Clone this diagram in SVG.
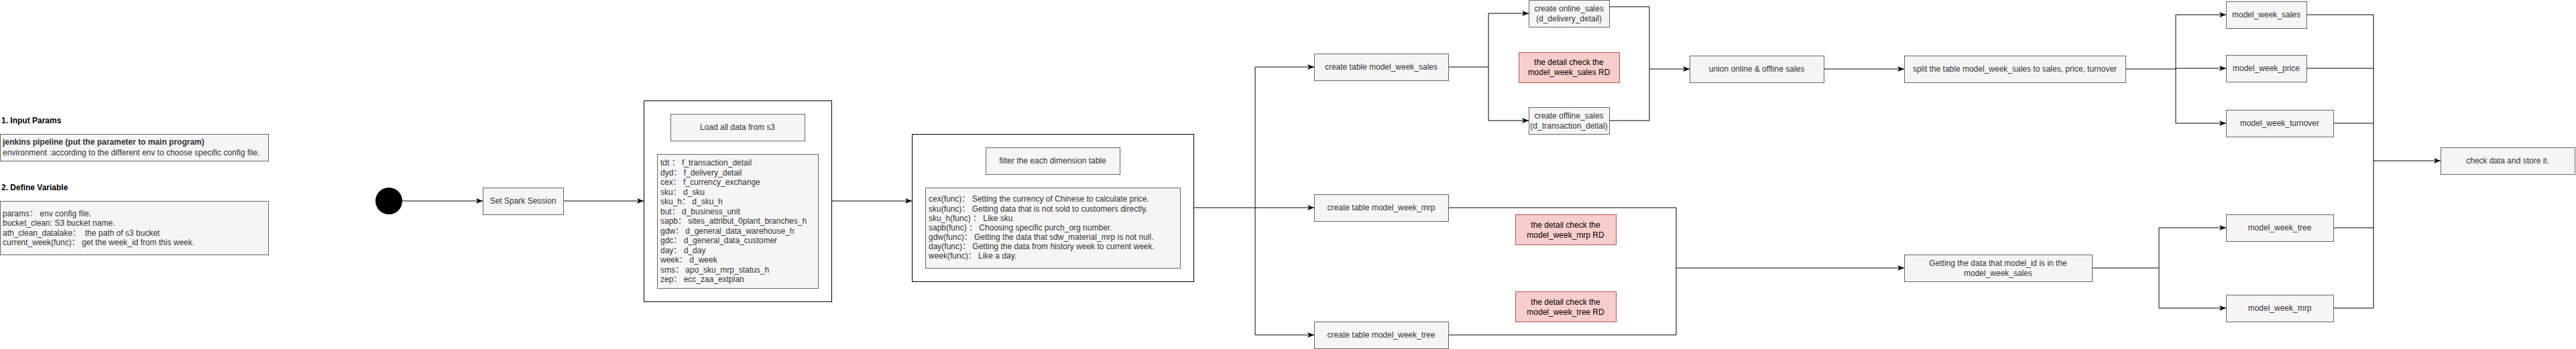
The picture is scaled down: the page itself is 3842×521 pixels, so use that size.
<svg xmlns="http://www.w3.org/2000/svg" width="3842" height="521" viewBox="0 0 3842 521">
<defs>
<marker id="arr" viewBox="0 0 10 8" refX="10" refY="4" markerWidth="10" markerHeight="8" orient="auto" markerUnits="userSpaceOnUse"><path d="M0,0 L10,4 L0,8 L2.5,4 z" fill="#000"/></marker>
</defs>
<style>
text{font-family:"Liberation Sans","Noto Sans CJK SC",Arial,sans-serif;font-size:12px;fill:#333333}
.c{text-anchor:middle}
.b{font-weight:bold}
.k{fill:#000000}
.n{fill:#f5f5f5;stroke:#666666;stroke-width:1}
.rd{fill:#f8cecc;stroke:#b85450;stroke-width:1}
.ct{fill:#ffffff;stroke:#000000;stroke-width:1}
.e{fill:none;stroke:#000000;stroke-width:1}
.a{marker-end:url(#arr)}
</style>
<rect width="3842" height="521" fill="#ffffff"/>
<g id="connectors">
<path class="e a" d="M600,300 H720"/>
<path class="e a" d="M840,300 H960"/>
<path class="e a" d="M1241,300 H1360"/>
<path class="e" d="M1781,310 H1872 M1872,100 V500"/>
<path class="e a" d="M1872,100 H1960"/>
<path class="e a" d="M1872,310 H1960"/>
<path class="e a" d="M1872,500 H1960"/>
<path class="e" d="M2161,100 H2220 M2220,20 V180"/>
<path class="e a" d="M2220,20 H2280"/>
<path class="e a" d="M2220,180 H2280"/>
<path class="e" d="M2401,10 H2460 V180 M2401,180 H2460"/>
<path class="e a" d="M2460,103 H2520"/>
<path class="e a" d="M2721,103 H2840"/>
<path class="e" d="M3171,103 H3245 M3245,22 V184"/>
<path class="e a" d="M3245,22 H3320"/>
<path class="e a" d="M3245,102 H3320"/>
<path class="e a" d="M3245,184 H3320"/>
<path class="e" d="M2161,310 H2500 V500 M2161,500 H2500"/>
<path class="e a" d="M2500,400 H2840"/>
<path class="e" d="M3120,400 H3220 M3220,340 V460"/>
<path class="e a" d="M3220,340 H3320"/>
<path class="e a" d="M3220,460 H3320"/>
<path class="e" d="M3440,22 H3540 M3440,102 H3540 M3480,184 H3540 M3480,340 H3540 M3480,460 H3540 M3540,22 V460"/>
<path class="e a" d="M3540,240 H3640"/>
</g>
<g id="input-params">
<text class="b k" x="2" y="184">1. Input Params</text>
<rect class="n" x="0.5" y="200.5" width="400" height="40"/>
<text class="b" x="4" y="216">jenkins pipeline (put the parameter to main program)</text>
<text x="4" y="232">environment :according to the different env to choose specific config file.</text>
</g>
<g id="define-variable">
<text class="b k" x="2" y="284">2. Define Variable</text>
<rect class="n" x="0.5" y="300.5" width="400" height="80"/>
<text x="4" y="323" xml:space="preserve">params： env config file.</text>
<text x="4" y="337" xml:space="preserve">bucket_clean: S3 bucket name.</text>
<text x="4" y="352" xml:space="preserve">ath_clean_datalake：  the path of s3 bucket</text>
<text x="4" y="366" xml:space="preserve">current_week(func)： get the week_id from this week.</text>
</g>
<g id="start"><circle cx="580" cy="300" r="20" fill="#000000"/></g>
<g id="spark"><rect class="n" x="720.5" y="280.5" width="120" height="40"/><text class="c" x="780" y="304">Set Spark Session</text></g>
<g id="load">
<rect class="ct" x="960.5" y="150.5" width="280" height="300"/>
<rect class="n" x="1000.5" y="170.5" width="200" height="40"/>
<text class="c" x="1100" y="194">Load all data from s3</text>
<rect class="n" x="980.5" y="230.5" width="240" height="200"/>
<text x="985" y="247" xml:space="preserve">tdt ： f_transaction_detail</text>
<text x="985" y="261.5" xml:space="preserve">dyd： f_delivery_detail</text>
<text x="985" y="276" xml:space="preserve">cex： f_currency_exchange</text>
<text x="985" y="290.5" xml:space="preserve">sku： d_sku</text>
<text x="985" y="305" xml:space="preserve">sku_h： d_sku_h</text>
<text x="985" y="319.5" xml:space="preserve">but： d_business_unit</text>
<text x="985" y="334" xml:space="preserve">sapb： sites_attribut_0plant_branches_h</text>
<text x="985" y="348.5" xml:space="preserve">gdw： d_general_data_warehouse_h</text>
<text x="985" y="363" xml:space="preserve">gdc： d_general_data_customer</text>
<text x="985" y="377.5" xml:space="preserve">day： d_day</text>
<text x="985" y="392" xml:space="preserve">week： d_week</text>
<text x="985" y="406.5" xml:space="preserve">sms： apo_sku_mrp_status_h</text>
<text x="985" y="421" xml:space="preserve">zep： ecc_zaa_extplan</text>
</g>
<g id="filter">
<rect class="ct" x="1360.5" y="200.5" width="420" height="220"/>
<rect class="n" x="1470.5" y="220.5" width="200" height="40"/>
<text class="c" x="1570" y="244">filter the each dimension table</text>
<rect class="n" x="1380.5" y="280.5" width="380" height="120"/>
<text x="1385" y="301" xml:space="preserve">cex(func)： Setting the currency of Chinese to calculate price.</text>
<text x="1385" y="316" xml:space="preserve">sku(func)： Getting data that is not sold to customers directly.</text>
<text x="1385" y="330" xml:space="preserve">sku_h(func) ： Like sku</text>
<text x="1385" y="344" xml:space="preserve">sapb(func) ： Choosing specific purch_org number.</text>
<text x="1385" y="358" xml:space="preserve">gdw(func)： Getting the data that sdw_material_mrp is not null.</text>
<text x="1385" y="372" xml:space="preserve">day(func)： Getting the data from history week to current week.</text>
<text x="1385" y="386" xml:space="preserve">week(func)： Like a day.</text>
</g>
<g id="create-sales"><rect class="n" x="1960.5" y="80.5" width="200" height="40"/><text class="c" x="2060" y="104">create table model_week_sales</text></g>
<g id="create-mrp"><rect class="n" x="1960.5" y="290.5" width="200" height="40"/><text class="c" x="2060" y="314">create table model_week_mrp</text></g>
<g id="create-tree"><rect class="n" x="1960.5" y="480.5" width="200" height="40"/><text class="c" x="2060" y="504">create table model_week_tree</text></g>
<g id="online"><rect class="n" x="2280.5" y="0.5" width="120" height="40"/><text class="c" x="2340" y="17">create online_sales</text><text class="c" x="2340" y="32">(d_delivery_detail)</text></g>
<g id="offline"><rect class="n" x="2280.5" y="160.5" width="120" height="40"/><text class="c" x="2340" y="177">create offline_sales</text><text class="c" x="2340" y="192">(d_transaction_detial)</text></g>
<g id="rd-sales"><rect class="rd" x="2265.5" y="78.5" width="150" height="45"/><text class="c k" x="2340" y="97">the detail check the</text><text class="c k" x="2340" y="112">model_week_sales RD</text></g>
<g id="rd-mrp"><rect class="rd" x="2260.5" y="320.5" width="150" height="45"/><text class="c k" x="2335" y="340">the detail check the</text><text class="c k" x="2335" y="355">model_week_mrp RD</text></g>
<g id="rd-tree"><rect class="rd" x="2260.5" y="435.5" width="150" height="45"/><text class="c k" x="2335" y="455">the detail check the</text><text class="c k" x="2335" y="470">model_week_tree RD</text></g>
<g id="union"><rect class="n" x="2520.5" y="83.5" width="200" height="40"/><text class="c" x="2620" y="107">union online &amp; offline sales</text></g>
<g id="split"><rect class="n" x="2840.5" y="83.5" width="330" height="40"/><text class="c" x="3005" y="107">split the table model_week_sales to sales, price, turnover</text></g>
<g id="getting"><rect class="n" x="2840.5" y="380.5" width="280" height="40"/><text class="c" x="2980" y="397">Getting the data that model_id is in the</text><text class="c" x="2980" y="412">model_week_sales</text></g>
<g id="mw-sales"><rect class="n" x="3320.5" y="2.5" width="120" height="40"/><text class="c" x="3380" y="26">model_week_sales</text></g>
<g id="mw-price"><rect class="n" x="3320.5" y="82.5" width="120" height="40"/><text class="c" x="3380" y="106">model_week_price</text></g>
<g id="mw-turnover"><rect class="n" x="3320.5" y="164.5" width="160" height="40"/><text class="c" x="3400" y="188">model_week_turnover</text></g>
<g id="mw-tree"><rect class="n" x="3320.5" y="320.5" width="160" height="40"/><text class="c" x="3400" y="344">model_week_tree</text></g>
<g id="mw-mrp"><rect class="n" x="3320.5" y="440.5" width="160" height="40"/><text class="c" x="3400" y="464">model_week_mrp</text></g>
<g id="check"><rect class="n" x="3640.5" y="220.5" width="200" height="40"/><text class="c" x="3740" y="244">check data and store it.</text></g>
</svg>
